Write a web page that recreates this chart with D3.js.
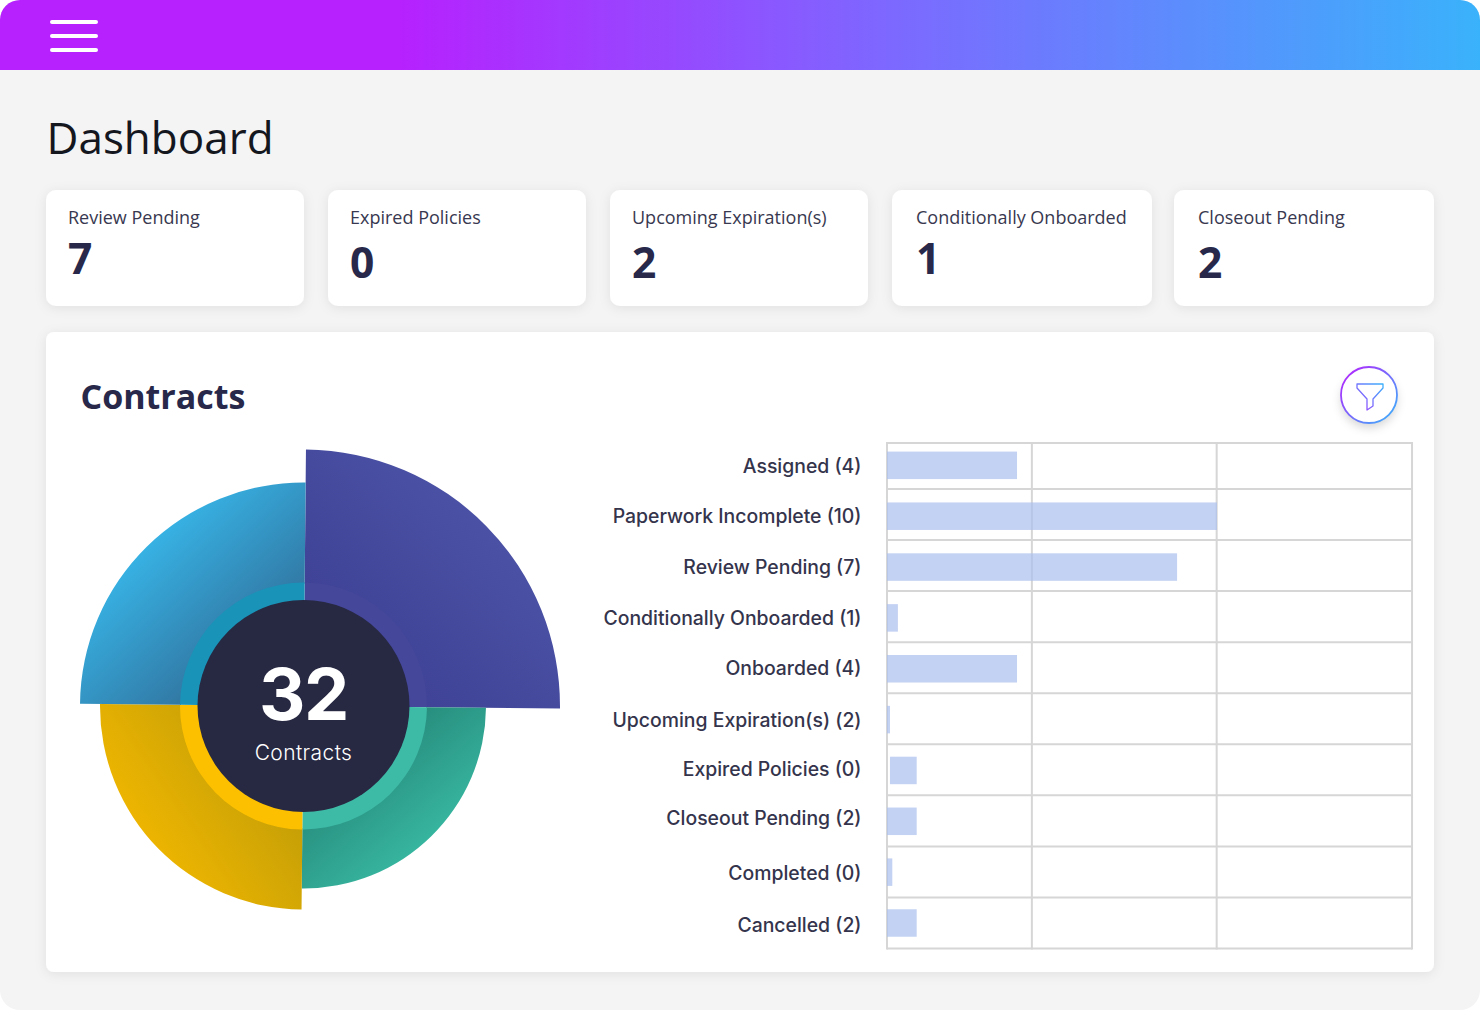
<!DOCTYPE html>
<html>
<head>
<meta charset="utf-8">
<title>Dashboard</title>
<script src="https://cdn.jsdelivr.net/npm/d3@7/dist/d3.min.js"></script>
<style>
  html, body { margin: 0; padding: 0; background: #fff; }
  svg { display: block; }
  text { font-family: "Open Sans", sans-serif; }
  .wide { font-family: Inter, "Noto Sans", sans-serif; }
</style>
</head>
<body>
<div id="chart"></div>
<script>
// summary cards
var cardTitles = ["Review Pending", "Expired Policies", "Upcoming Expiration(s)", "Conditionally Onboarded", "Closeout Pending"];
var cardValues = [7, 0, 2, 1, 2];

// donut, clockwise from the top
var sliceNames = ["purple", "teal", "yellow", "blue"];
var sliceValues = [8, 8, 8, 8];
var sliceReach = [133, 59, 80, 100]; //how far each slice sticks out past the ring
var totalContracts = 32;

// bars (the lengths do not follow the counts in the labels)
var barLabels = ["Assigned (4)", "Paperwork Incomplete (10)", "Review Pending (7)", "Conditionally Onboarded (1)", "Onboarded (4)",
  "Upcoming Expiration(s) (2)", "Expired Policies (0)", "Closeout Pending (2)", "Completed (0)", "Cancelled (2)"];
var barStart = [0, 0, 0, 0, 0, 0, 0.09, 0, 0, 0];
var barEnd = [3.94, 10, 8.79, 0.33, 3.94, 0.09, 0.9, 0.9, 0.16, 0.9];
var gridValues = [0, 4.39, 9.99, 15.91];

var svg = d3.select("#chart").append("svg").attr("width", 1480).attr("height", 1010);
var defs = svg.append("defs");

function gradient(id, x1, y1, x2, y2, stops) {
  var g = defs.append("linearGradient").attr("id", id)
    .attr("gradientUnits", "userSpaceOnUse")
    .attr("x1", x1).attr("y1", y1).attr("x2", x2).attr("y2", y2);
  stops.forEach(s => g.append("stop").attr("offset", s[0]).attr("stop-color", s[1]));
}

gradient("headerGrad", 0, 0, 1480, 0, [[0.27, "#b621fe"], [0.6, "#7d68ff"], [1, "#3ab2fb"]]);
gradient("ringGrad", 1342, 370, 1396, 420, [[0, "#b621fe"], [1, "#3ab2fb"]]);
gradient("funnelGrad", 1357, 410, 1383, 384, [[0, "#a43cff"], [1, "#3ab2fb"]]);

// donut gradients are relative to the donut centre
gradient("blueGrad", -159, -166, -19, -16, [[0, "#37b4e6"], [1, "#2f5f88"]]);
gradient("purpleGrad", 46, -66, 186, -206, [[0, "#3f4296"], [1, "#4c53a6"]]);
gradient("tealGrad", 36, 24, 146, 154, [[0, "#25867a"], [0.15, "#26897a"], [1, "#3bc0a8"]]);
gradient("yellowGrad", -174, 144, -14, 34, [[0, "#f3b800"], [1, "#bb9a08"]]);

var soft = defs.append("filter").attr("id", "soft")
  .attr("x", "-10%").attr("y", "-20%").attr("width", "120%").attr("height", "140%");
soft.append("feDropShadow").attr("dx", 0).attr("dy", 2).attr("stdDeviation", 6)
  .attr("flood-color", "#000").attr("flood-opacity", 0.08);
var round = defs.append("filter").attr("id", "round")
  .attr("x", "-30%").attr("y", "-30%").attr("width", "160%").attr("height", "170%");
round.append("feDropShadow").attr("dx", 0).attr("dy", 5).attr("stdDeviation", 5)
  .attr("flood-color", "#000").attr("flood-opacity", 0.16);

defs.append("clipPath").attr("id", "page").append("rect")
  .attr("width", 1480).attr("height", 1010).attr("rx", 20);

//-----------------------------------------------------
//          page, header
//-----------------------------------------------------
var page = svg.append("g").attr("clip-path", "url(#page)");
page.append("rect").attr("width", 1480).attr("height", 1010).attr("fill", "#f4f4f4");
page.append("rect").attr("width", 1480).attr("height", 70).attr("fill", "url(#headerGrad)");

[22, 36, 50].forEach(y => {
  svg.append("rect").attr("x", 50).attr("y", y - 2).attr("width", 48).attr("height", 4)
    .attr("rx", 2).attr("fill", "#fff");
});

svg.append("text").attr("x", 46.5).attr("y", 154).attr("font-size", 44)
  .attr("fill", "#15171f").text("Dashboard");

//-----------------------------------------------------
//          summary cards
//-----------------------------------------------------
var cardX = [46, 328, 610, 892, 1174];
var cardW = [258, 258, 258, 260, 260];
var cardTextX = [68, 350, 632, 916, 1198];
var cardValueY = [274, 277.5, 277.5, 274, 277.5]; //the numbers do not share a baseline

cardTitles.forEach((title, i) => {
  svg.append("rect").attr("x", cardX[i]).attr("y", 190).attr("width", cardW[i]).attr("height", 116)
    .attr("rx", 10).attr("fill", "#fff").attr("filter", "url(#soft)");
  svg.append("text").attr("x", cardTextX[i]).attr("y", 224).attr("font-size", 18)
    .attr("fill", "#383850").text(title);
  svg.append("text").attr("x", cardTextX[i]).attr("y", cardValueY[i]).attr("font-size", 42.5)
    .attr("font-weight", 700).attr("fill", "#27284a").text(cardValues[i]);
});

//-----------------------------------------------------
//          contracts panel
//-----------------------------------------------------
svg.append("rect").attr("x", 46).attr("y", 332).attr("width", 1388).attr("height", 640)
  .attr("rx", 8).attr("fill", "#fff").attr("filter", "url(#soft)");

svg.append("text").attr("x", 80.5).attr("y", 408.5).attr("font-size", 34)
  .attr("font-weight", 700).attr("fill", "#27284a").text("Contracts");

// filter button
svg.append("circle").attr("cx", 1369).attr("cy", 395).attr("r", 28)
  .attr("fill", "#fff").attr("filter", "url(#round)");
svg.append("circle").attr("cx", 1369).attr("cy", 395).attr("r", 28)
  .attr("fill", "none").attr("stroke", "url(#ringGrad)").attr("stroke-width", 1.8);
svg.append("path")
  .attr("d", d3.line()([[1357, 384], [1383, 384], [1383, 388], [1373, 399], [1373, 406], [1367, 410], [1367, 399], [1357, 388]]) + "Z")
  .attr("fill", "none").attr("stroke", "url(#funnelGrad)").attr("stroke-width", 1.3).attr("stroke-linejoin", "round");

//-----------------------------------------------------
//          donut
//-----------------------------------------------------
var hubR = 106, ringR = 123.5;
var donut = svg.append("g").attr("transform", "translate(303.5,706)");

var tilt = 0.55 * Math.PI / 180; //the whole thing sits slightly rotated
var pie = d3.pie().sort(null).startAngle(tilt).endAngle(2 * Math.PI + tilt);
var slices = pie(sliceValues);
var reach = d3.scaleLinear().domain([0, 133]).range([ringR, 256.5]);

var ringColors = ["#44479a", "#3ebba7", "#fdc000", "#1a93b8"];
var arc = d3.arc();

slices.forEach((s, i) => {
  donut.append("path")
    .attr("d", arc({innerRadius: ringR - 1, outerRadius: reach(sliceReach[i]), startAngle: s.startAngle, endAngle: s.endAngle}))
    .attr("fill", "url(#" + sliceNames[i] + "Grad)");
  donut.append("path")
    .attr("d", arc({innerRadius: hubR - 1, outerRadius: ringR, startAngle: s.startAngle, endAngle: s.endAngle}))
    .attr("fill", ringColors[i]);
});

donut.append("circle").attr("r", hubR).attr("fill", "#272842");
donut.append("text").attr("class", "wide").attr("text-anchor", "middle").attr("y", 14)
  .attr("font-size", 72).attr("font-weight", 700).attr("letter-spacing", -1.5).attr("fill", "#fff").text(totalContracts);
donut.append("text").attr("class", "wide").attr("text-anchor", "middle").attr("y", 54)
  .attr("font-size", 21).attr("font-weight", 300).attr("letter-spacing", 0.4).attr("fill", "#fff").text("Contracts");

//-----------------------------------------------------
//          bars
//-----------------------------------------------------
var x = d3.scaleLinear().domain([0, 10]).range([887, 1217]);
var rowLine = d3.scaleLinear().domain([0, 1, 10]).range([443, 489, 948.5]); //first row is shorter
var y = d3.scalePoint().domain(barLabels).range([451.6, 451.6 + 50.85 * 9]);
var barH = 27.5;
var labelNudge = [2, 1, 1, 1, 0, 1, 0, -2, 2, 3]; //labels are not quite centred on their bars

var grid = svg.append("g").attr("stroke", "#d6d6d6").attr("stroke-width", 2);
d3.range(0, 11).forEach(i => {
  grid.append("line").attr("x1", x(gridValues[0])).attr("x2", x(gridValues[3]))
    .attr("y1", rowLine(i)).attr("y2", rowLine(i));
});
gridValues.forEach(v => {
  grid.append("line").attr("x1", x(v)).attr("x2", x(v))
    .attr("y1", rowLine(0) - 1).attr("y2", rowLine(10) + 1);
});

svg.append("g").selectAll("rect").data(barLabels).join("rect")
  .attr("x", (d, i) => x(barStart[i]))
  .attr("y", d => y(d))
  .attr("width", (d, i) => x(barEnd[i]) - x(barStart[i]))
  .attr("height", barH)
  .attr("fill", "#a9bdec").attr("fill-opacity", 0.7);

svg.append("g").selectAll("text").data(barLabels).join("text")
  .attr("class", "wide")
  .attr("x", 861.5)
  .attr("y", (d, i) => y(d) + barH / 2 + 6 + labelNudge[i])
  .attr("text-anchor", "end")
  .attr("font-size", 19.4).attr("font-weight", 500)
  .attr("fill", "#34344c")
  .text(d => d);
</script>
</body>
</html>
